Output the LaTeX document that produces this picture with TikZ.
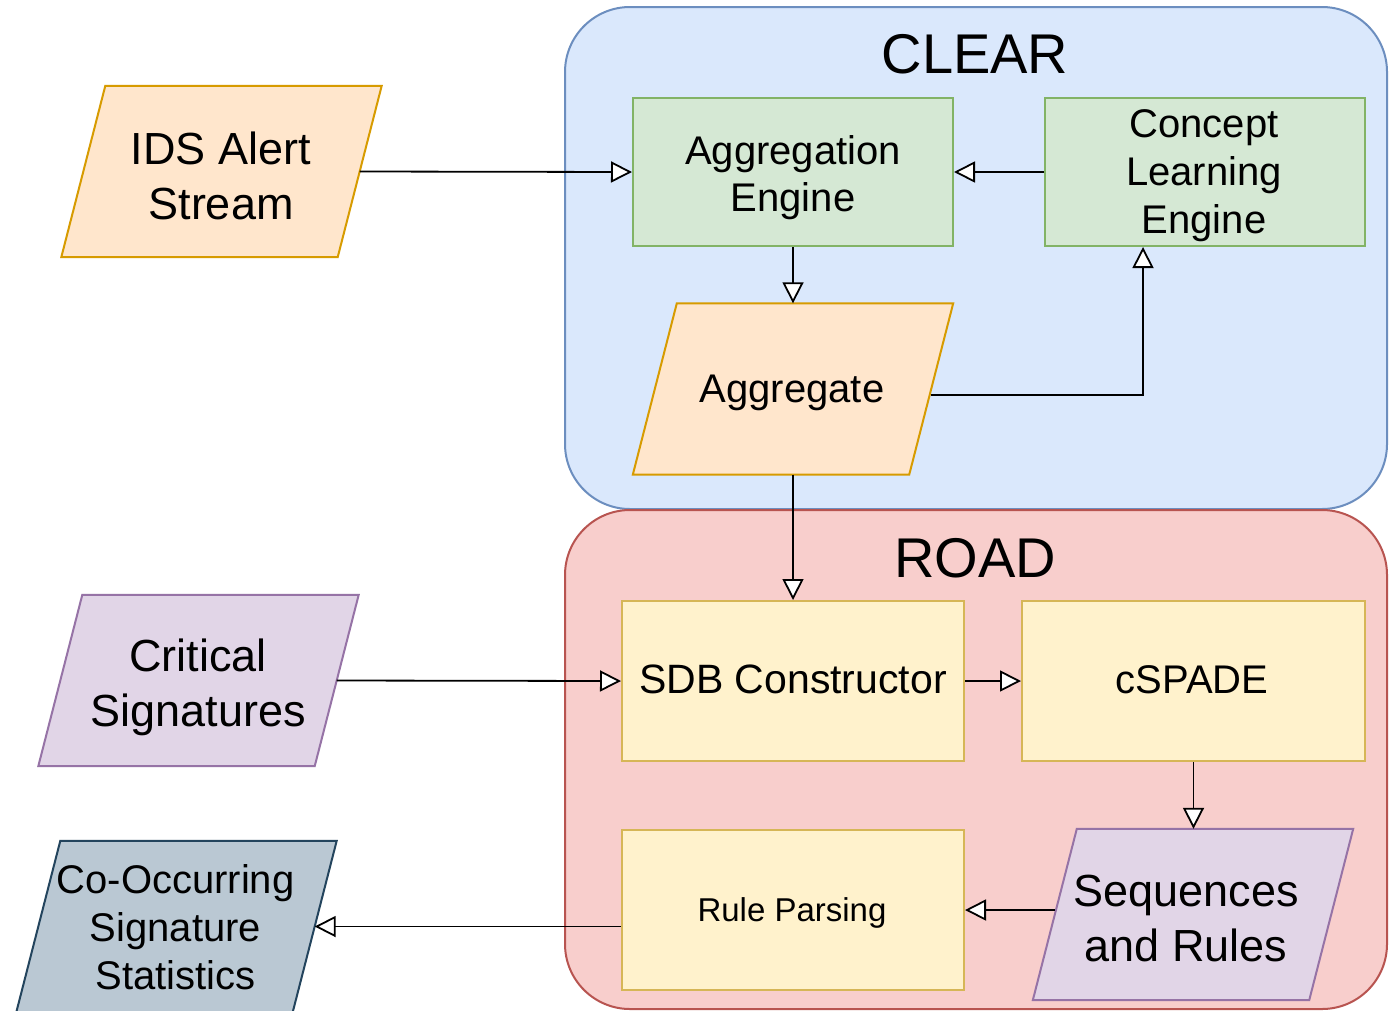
\documentclass[tikz,border=0pt]{standalone}
\usepackage{fontspec}
\setmainfont{Liberation Sans}
\usetikzlibrary{arrows.meta}
\definecolor{clearfill}{HTML}{DAE8FC}
\definecolor{clearline}{HTML}{6C8EBF}
\definecolor{roadfill}{HTML}{F8CECC}
\definecolor{roadline}{HTML}{B85450}
\definecolor{greenfill}{HTML}{D5E8D4}
\definecolor{greenline}{HTML}{82B366}
\definecolor{orangefill}{HTML}{FFE6CC}
\definecolor{orangeline}{HTML}{D79B00}
\definecolor{yellowfill}{HTML}{FFF2CC}
\definecolor{yellowline}{HTML}{D6B656}
\definecolor{purplefill}{HTML}{E1D5E7}
\definecolor{purpleline}{HTML}{9673A6}
\definecolor{greyfill}{HTML}{BAC8D3}
\definecolor{greyline}{HTML}{23445D}
\newcommand{\parashape}[3]{%
  \draw[line width=2pt, fill=#2, draw=#3]
    ([xshift=-22pt]#1.south west) -- ([xshift=22pt]#1.north west) --
    ([xshift=22pt]#1.north east) -- ([xshift=-22pt]#1.south east) -- cycle;}
\begin{document}
\begin{tikzpicture}[x=1pt,y=-1pt,
  container/.style={draw, line width=2pt, rounded corners=65pt, rectangle, inner sep=0},
  proc/.style={draw, line width=2pt, rectangle, inner sep=0},
  pbox/.style={rectangle, inner sep=0, minimum width=276pt, minimum height=171pt},
  txt/.style={align=center, inner sep=0},
  fA/.style={font=\fontsize{40}{47}\selectfont},
  fC/.style={font=\fontsize{40}{48}\selectfont},
  fB/.style={font=\fontsize{45}{55}\selectfont},
  flow/.style={line width=1.8pt, -{Triangle[fill=white, length=21pt, width=21pt, line width=1.8pt]}},
]
\useasboundingbox (0,0) rectangle (1399,1010);
\fill[white] (0,0) rectangle (1399,1010);

% containers
\node[container, fill=clearfill, draw=clearline, minimum width=822pt, minimum height=502pt] (clear) at (976,258) {};
\node[container, fill=roadfill, draw=roadline, minimum width=822pt, minimum height=499pt] (road) at (976,759.5) {};
\node[txt, anchor=base, font=\fontsize{56}{60}\selectfont] (cleart) at (975,73) {CLEAR};
\node[txt, anchor=base, font=\fontsize{56}{60}\selectfont] (roadt) at (975,577) {ROAD};

% CLEAR part
\node[pbox] (ids) at (221.5,171.5) {};
\parashape{ids}{orangefill}{orangeline}
\node[txt, fB] (idst) at (221,176) {IDS Alert\\Stream};

\node[proc, fill=greenfill, draw=greenline, minimum width=320pt, minimum height=148pt] (agg) at (793,172) {};
\node[txt, fA] (aggt) at (793,178) {Aggregation\\Engine};

\node[proc, fill=greenfill, draw=greenline, minimum width=320pt, minimum height=148pt] (cle) at (1205,172) {};
\node[txt, fC] (clet) at (1204,176) {Concept\\Learning\\Engine};

\node[pbox] (aggr) at (793,389) {};
\parashape{aggr}{orangefill}{orangeline}
\node[txt, fA] (aggrt) at (792,393) {Aggregate};

% ROAD part
\node[proc, fill=yellowfill, draw=yellowline, minimum width=342pt, minimum height=160pt] (sdb) at (793,681) {};
\node[txt, font=\fontsize{41}{48}\selectfont] (sdbt) at (793,679) {SDB Constructor};

\node[proc, fill=yellowfill, draw=yellowline, minimum width=343pt, minimum height=160pt] (csp) at (1193.5,681) {};
\node[txt, fA] (cspt) at (1192,680) {cSPADE};

\node[pbox] (seq) at (1193,914.5) {};
\parashape{seq}{purplefill}{purpleline}
\node[txt, fB] (seqt) at (1186,918) {Sequences\\and Rules};

\node[proc, fill=yellowfill, draw=yellowline, minimum width=342pt, minimum height=160pt] (rule) at (793,910) {};
\node[txt, font=\fontsize{33}{40}\selectfont] (rulet) at (792,913) {Rule Parsing};

% outside inputs/outputs
\node[pbox] (crit) at (198.5,680.5) {};
\parashape{crit}{purplefill}{purpleline}
\node[txt, fB] (critt) at (198,687) {Critical\\Signatures};

\node[pbox] (cooc) at (176.5,926.5) {};
\parashape{cooc}{greyfill}{greyline}
\node[txt, fC] (cooct) at (175.5,927) {Co-Occurring\\Signature\\Statistics};

% connectors
\draw[flow] (ids.east) -- (agg.west);
\draw[flow] (cle.west) -- (agg.east);
\draw[flow] (agg.south) -- (aggr.north);
\draw[flow] ([yshift=-6pt]aggr.east) -| ([xshift=-62pt]cle.south);
\draw[flow] (aggr.south) -- (sdb.north);
\draw[flow] (crit.east) -- (sdb.west);
\draw[flow] (sdb.east) -- (csp.west);
\draw[flow] (csp.south) -- (csp.south |- seq.north);
\draw[flow] (rule.east -| seq.west) -- (rule.east);
\draw[flow] (rule.west |- cooc.east) -- (cooc.east);
\end{tikzpicture}
\end{document}
